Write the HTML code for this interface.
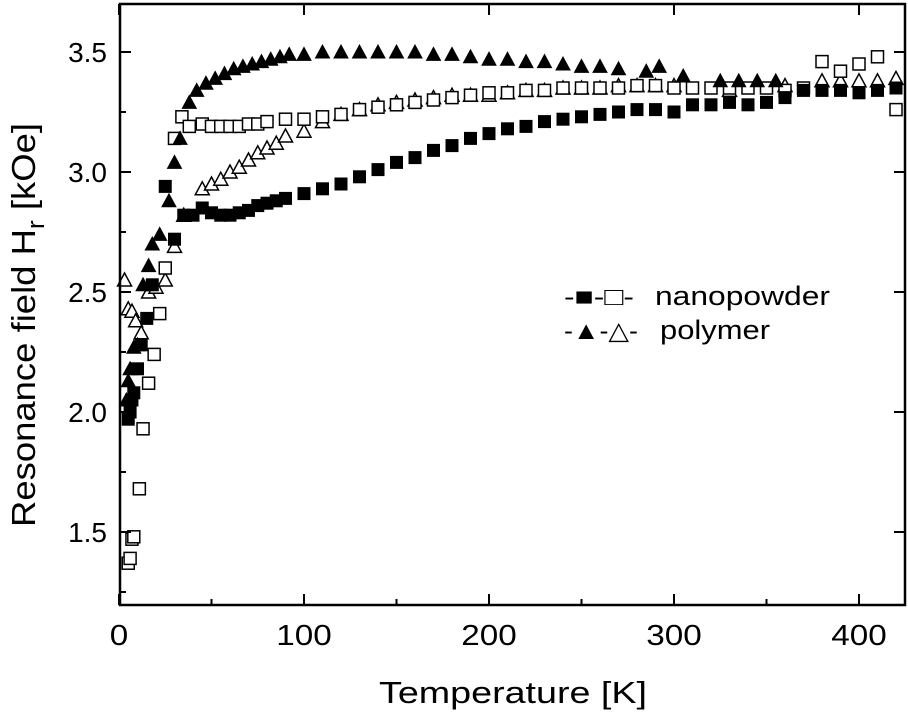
<!DOCTYPE html>
<html><head><meta charset="utf-8"><style>
body{margin:0;background:#fff;width:908px;height:717px;overflow:hidden}
svg{display:block;font-family:"Liberation Sans",Arial,sans-serif}
</style></head><body>
<svg id="chart" width="908" height="717" viewBox="0 0 908 717" xmlns="http://www.w3.org/2000/svg">
<g id="marks"></g>
<rect x="120" y="4" width="785" height="601" fill="none" stroke="#000" stroke-width="2.5"/>
<g id="axes"></g>
<text x="379" y="703" font-size="31" textLength="268" lengthAdjust="spacingAndGlyphs">Temperature [K]</text>
<text transform="translate(35,527) rotate(-90)" font-size="33" textLength="404" lengthAdjust="spacingAndGlyphs">Resonance field H<tspan font-size="24" dy="9">r</tspan><tspan dy="-9"> [kOe]</tspan></text>
<g>
<text x="564" y="305" font-size="25" textLength="70" lengthAdjust="spacingAndGlyphs">-■-□-</text>
<text x="655" y="305" font-size="27" textLength="175" lengthAdjust="spacingAndGlyphs">nanopowder</text>
<text x="564" y="339" font-size="25" textLength="74" lengthAdjust="spacingAndGlyphs">-▲-△-</text>
<text x="660" y="339" font-size="27" textLength="110" lengthAdjust="spacingAndGlyphs">polymer</text>
</g>
</svg>
<script>
const xTicks=[0,100,200,300,400];
const yTicks=[1.5,2.0,2.5,3.0,3.5];
const npFilledT=[5,6,7,8,10,12,15,18,25,30,35,40,45,50,55,60,65,70,75,80,85,90,100,110,120,130,140,150,160,170,180,190,200,210,220,230,240,250,260,270,280,290,300,310,320,330,340,350,360,370,380,390,400,410,420];
const npFilledH=[1.97,2.0,2.05,2.08,2.18,2.28,2.39,2.53,2.94,2.72,2.82,2.82,2.85,2.83,2.82,2.82,2.83,2.84,2.86,2.87,2.88,2.89,2.91,2.93,2.95,2.98,3.01,3.04,3.06,3.09,3.11,3.14,3.16,3.18,3.19,3.21,3.22,3.23,3.24,3.25,3.26,3.26,3.25,3.28,3.28,3.29,3.28,3.29,3.31,3.34,3.34,3.34,3.33,3.34,3.35];
const npOpenT=[5,6,7,8,11,13,16,19,22,25,30,34,38,45,50,55,60,65,70,75,80,90,100,110,120,130,140,150,160,170,180,190,200,210,220,230,240,250,260,270,280,290,300,310,320,330,340,350,360,370,380,390,400,410,420];
const npOpenH=[1.37,1.39,1.47,1.48,1.68,1.93,2.12,2.24,2.41,2.60,3.14,3.23,3.19,3.20,3.19,3.19,3.19,3.19,3.20,3.20,3.21,3.22,3.22,3.23,3.24,3.26,3.27,3.28,3.29,3.30,3.31,3.32,3.33,3.33,3.34,3.34,3.35,3.35,3.35,3.35,3.36,3.36,3.35,3.35,3.35,3.35,3.35,3.35,3.34,3.35,3.46,3.42,3.45,3.48,3.26];
const polFilledT=[4,5,6,8,10,13,16,18,22,27,30,33,38,42,47,52,57,62,67,72,77,82,87,92,100,110,120,130,140,150,160,170,180,190,200,210,220,230,240,250,260,270,285,292,305,325,335,345,355];
const polFilledH=[2.05,2.13,2.18,2.27,2.28,2.53,2.61,2.70,2.74,2.88,3.04,3.14,3.29,3.34,3.37,3.39,3.41,3.43,3.44,3.45,3.46,3.47,3.48,3.49,3.49,3.50,3.50,3.50,3.50,3.50,3.50,3.49,3.49,3.48,3.47,3.47,3.46,3.46,3.45,3.44,3.44,3.43,3.42,3.44,3.40,3.38,3.38,3.38,3.38];
const polOpenT=[3,5,7,9,12,16,20,25,30,35,45,50,55,60,65,70,75,80,85,90,100,110,120,130,140,150,160,170,180,190,200,210,220,230,240,250,260,270,280,290,300,330,360,380,390,400,410,420];
const polOpenH=[2.55,2.43,2.42,2.38,2.33,2.50,2.52,2.55,2.69,2.82,2.93,2.95,2.97,3.00,3.02,3.05,3.08,3.10,3.12,3.15,3.17,3.21,3.24,3.26,3.28,3.29,3.30,3.31,3.32,3.32,3.32,3.33,3.34,3.34,3.35,3.35,3.35,3.36,3.36,3.36,3.36,3.34,3.36,3.38,3.38,3.38,3.38,3.39];
const X=v=>119+v*1.85;
const Y=v=>52+(3.5-v)*240;
const NS="http://www.w3.org/2000/svg";
const marks=document.getElementById('marks'),axes=document.getElementById('axes');
function mk(tag,attrs,parent){const e=document.createElementNS(NS,tag);for(const k in attrs)e.setAttribute(k,attrs[k]);parent.appendChild(e);return e;}
xTicks.forEach(t=>{
  const x=X(t);
  const l=mk('line',{x1:x,x2:x,y1:605,y2:594,stroke:'#000','stroke-width':2},axes);
  
  
  const l2=mk('line',{x1:x,x2:x,y1:4,y2:15,stroke:'#000','stroke-width':2},axes);
  
  
  const s=String(t);
  const w=s.length*18.5;
  const tx=mk('text',{x:x-w/2,y:645,'font-size':29,textLength:w,lengthAdjust:'spacingAndGlyphs'},axes);
  tx.textContent=s;
  
  
  if(X(t+50)<905){const m=mk('line',{x1:X(t+50),x2:X(t+50),y1:605,y2:599,stroke:'#000','stroke-width':2},axes);
  
  }
});
yTicks.forEach(t=>{
  const y=Y(t);
  const l=mk('line',{x1:120,x2:131,y1:y,y2:y,stroke:'#000','stroke-width':2},axes);
  
  
  const r=mk('line',{x1:905,x2:894,y1:y,y2:y,stroke:'#000','stroke-width':2},axes);
  
  
  const tx=mk('text',{x:107,y:y+10,'font-size':28,'text-anchor':'end'},axes);
  tx.textContent=t.toFixed(1);
  
  
  const m=mk('line',{x1:120,x2:126,y1:Y(t-0.25),y2:Y(t-0.25),stroke:'#000','stroke-width':2},axes);
  
  
});
function series(T,H,shape,filled,name){
  const g=mk('g',{},marks);
  
  
  T.forEach((t,i)=>{
    const x=X(t),y=Y(H[i]);let e;
    const st=filled?{fill:'#000',stroke:'#000','stroke-width':1}:{fill:'#fff',stroke:'#000','stroke-width':1.5};
    if(shape==='sq'){e=mk('rect',Object.assign({x:x-6,y:y-6,width:12,height:12},st),g);}
    else{e=mk('polygon',Object.assign({points:`${x},${y-7} ${x-7},${y+6} ${x+7},${y+6}`},st),g);}
    
    
  });
}
series(polOpenT,polOpenH,'tri',false,'polymer-open-series');
series(npOpenT,npOpenH,'sq',false,'nanopowder-open-series');
series(polFilledT,polFilledH,'tri',true,'polymer-filled-series');
series(npFilledT,npFilledH,'sq',true,'nanopowder-filled-series');
</script>
</body></html>
